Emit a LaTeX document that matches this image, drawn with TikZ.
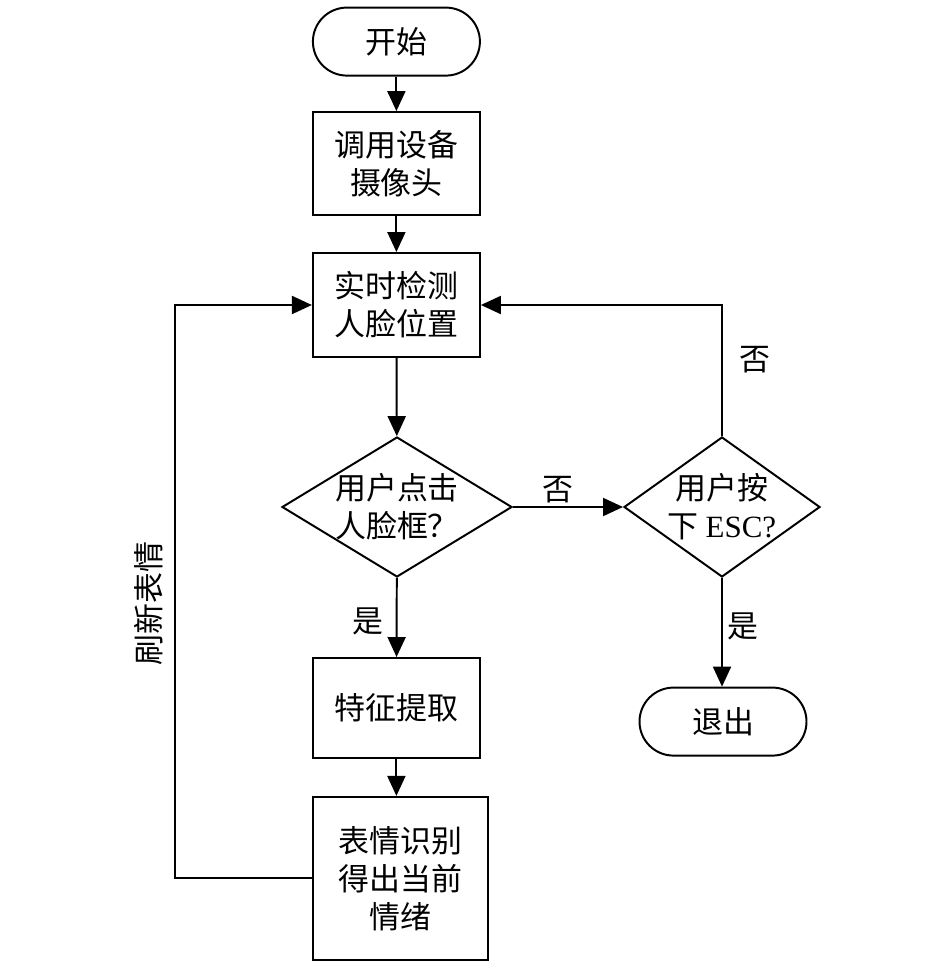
\documentclass[tikz,border=0pt]{standalone}
\usepackage{fontspec}
\setmainfont{Liberation Serif}
\newfontfamily\cjk{Noto Sans CJK SC}
\usetikzlibrary{arrows.meta,shapes.geometric}

\begin{document}
\begin{tikzpicture}[>={Triangle[length=0.5cm,width=0.45cm]},   % arrow style
                    line width=1.4pt,
                    every node/.style={font=\cjk\fontsize{22pt}{27pt}\selectfont},
                    proc/.style={draw,rectangle,align=center,minimum width=4.175cm},
                    term/.style={draw,rounded corners=0.85cm,minimum width=4.175cm,minimum height=1.7cm},
                    decision/.style={draw,diamond,inner sep=0pt,minimum height=3.5cm}]

\useasboundingbox (0,0) rectangle (23.65,-24.075);

% ---------------------------------------------------------------
% Main column
\node[term] (start) at (9.91,-1.04) {开始};
\node[proc,minimum height=2.575cm] (cam)    at (9.91,-4.09)  {调用设备\\摄像头};
\node[proc,minimum height=2.6cm]   (detect) at (9.91,-7.625) {实时检测\\人脸位置};

\node[decision,minimum width=5.75cm] (click) at (9.925,-12.675) {};
\node[align=center] (clicktxt) at (click) {用户点击\\人脸框？};

\node[proc,minimum height=2.5cm] (feat) at (9.91,-17.7) {特征提取};
\node[proc,minimum width=4.375cm,minimum height=4.075cm] (emo) at (10.01,-21.96)
      {表情识别\\得出当前\\情绪};

% ---------------------------------------------------------------
% Right column
\node[decision,minimum width=4.9cm] (esc) at (18.05,-12.675) {};
\node[align=center] (esctxt) at (esc) {用户按\\下 {\rmfamily ESC?}};

\node[term] (quit) at (18.075,-18.04) {退出};

% loop corner on the left
\coordinate (loop) at (4.375,-21.96);

% ---------------------------------------------------------------
% Arrows
\draw[->] (start) -- (cam);
\draw[->] (cam) -- (detect);
\draw[->] (detect) -- (click);
\draw[->] (click) -- (feat)
      node[pos=0.55,left=0.2cm] (yes1) {是};
\draw[->] (feat.south) -- (feat.south |- emo.north);

\draw[->] (click) -- (esc)
      node[pos=0.41,yshift=0.43cm] (no1) {否};
\draw[->] (esc.south) -- (esc.south |- quit.north)
      node[pos=0.45,right] (yes2) {是};
\draw[->] (esc.north) |- (detect.east)
      node[pos=0.29,right=0.3cm] (no2) {否};

% Refresh loop
\draw[->] (emo.west) -- (loop) |- (detect.west)
      node[pos=0.24,rotate=90,above=0.15cm] (refresh) {刷新表情};

\end{tikzpicture}
\end{document}
